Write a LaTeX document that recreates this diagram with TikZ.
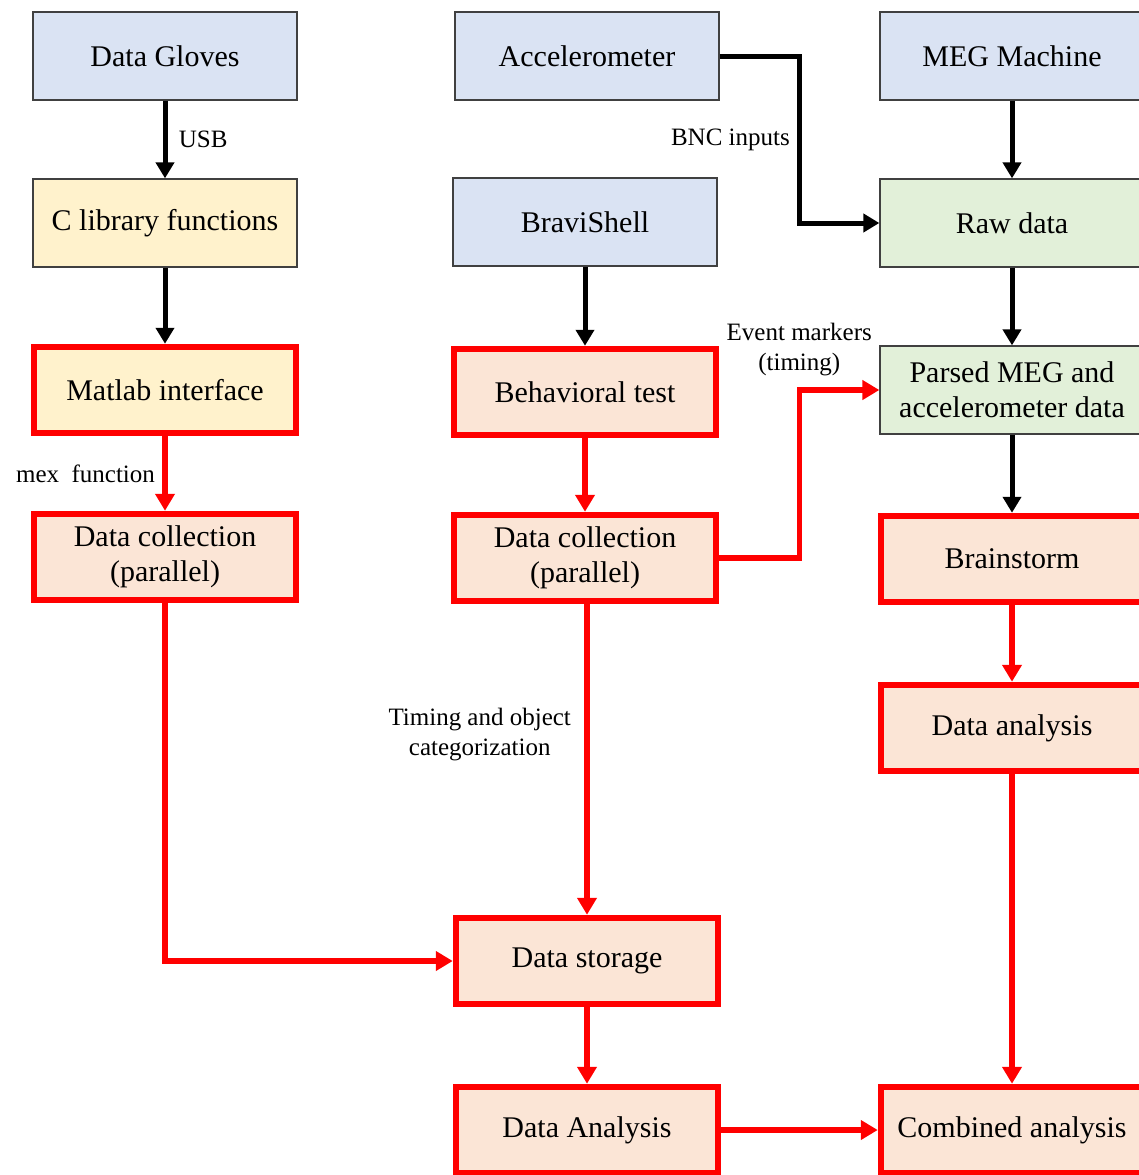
\documentclass[tikz,border=0pt]{standalone}
\usepackage{fontspec}
\setmainfont{Liberation Serif}
\usetikzlibrary{arrows.meta}
\usetikzlibrary{positioning}

\definecolor{inblue}{HTML}{DAE3F3}
\definecolor{inyellow}{HTML}{FFF2CC}
\definecolor{ingreen}{HTML}{E2F0D9}
\definecolor{inpeach}{HTML}{FBE5D6}
\definecolor{boxline}{HTML}{404040}

\begin{document}
\begin{tikzpicture}[x=1pt,y=-1pt,
    box node/.style={rectangle,draw=boxline,line width=1.3pt,minimum width=264pt,minimum height=88pt,
      inner sep=2pt,align=center,font=\fontsize{30}{35}\selectfont},
    red node/.style={box node,draw=red,line width=6.5pt,minimum width=262pt,minimum height=86pt},
    blk/.style={line width=5pt,-{Triangle[width=18pt,length=16pt]}},
    rd/.style={draw=red,line width=5.5pt,-{Triangle[width=19pt,length=17pt]}},
    lbl/.style={font=\fontsize{25}{30}\selectfont,align=center}]
  \useasboundingbox (0,0) rectangle (1138,1175);

  % left column
  \node[box node,fill=inblue] (gloves) at (165,56) {Data Gloves};
  \node[box node,fill=inyellow] (clib) at (165,223) {C library functions};
  \node[red node,fill=inyellow] (matlab) at (165,390) {Matlab interface};
  \node[red node,fill=inpeach] (collA) at (165,557) {Data collection\\(parallel)};

  % middle column
  \node[box node,fill=inblue] (accel) at (587,56) {Accelerometer};
  \node[box node,fill=inblue] (bravi) at (585,222) {BraviShell};
  \node[red node,fill=inpeach] (behav) at (585,392) {Behavioral test};
  \node[red node,fill=inpeach] (collB) at (585,558) {Data collection\\(parallel)};
  \node[red node,fill=inpeach] (store) at (587,961) {Data storage};
  \node[red node,fill=inpeach] (anaB) at (587,1130) {Data Analysis};

  % right column
  \node[box node,fill=inblue] (meg) at (1012,56) {MEG Machine};
  \node[box node,fill=ingreen] (raw) at (1012,223) {Raw data};
  \node[box node,fill=ingreen] (parsed) at (1012,390) {Parsed MEG and\\accelerometer data};
  \node[red node,fill=inpeach] (brain) at (1012,559) {Brainstorm};
  \node[red node,fill=inpeach] (anaC) at (1012,728) {Data analysis};
  \node[red node,fill=inpeach] (comb) at (1012,1130) {Combined analysis};

  % black links
  \draw[blk] (gloves) -- node[lbl,midway,right=8pt] {USB} (clib);
  \draw[blk] (clib) -- (matlab);
  \draw[blk] (bravi) -- (behav);
  \draw[blk] (meg) -- (raw);
  \draw[blk] (raw) -- (parsed);
  \draw[blk] (parsed) -- (brain);
  \draw[blk] (accel.east) -- ++(80,0) |- node[lbl,pos=0.25,left=4pt] {BNC inputs} (raw.west);

  % red links
  \draw[rd] (matlab) -- node[lbl,midway,left=4pt] {mex~~function} (collA);
  \draw[rd] (collA.south) |- (store.west);
  \draw[rd] (behav) -- (collB);
  \draw[rd] (collB.south -| store.north) -- node[lbl,pos=0.42,left=10pt] {Timing and object\\categorization} (store.north);
  \draw[rd] (collB.east) -- ++(80,0) |- node[lbl,pos=0.5,above=8pt] {Event markers\\(timing)} (parsed.west);
  \draw[rd] (store) -- (anaB);
  \draw[rd] (brain) -- (anaC);
  \draw[rd] (anaC) -- (comb);
  \draw[rd] (anaB) -- (comb);
\end{tikzpicture}
\end{document}
